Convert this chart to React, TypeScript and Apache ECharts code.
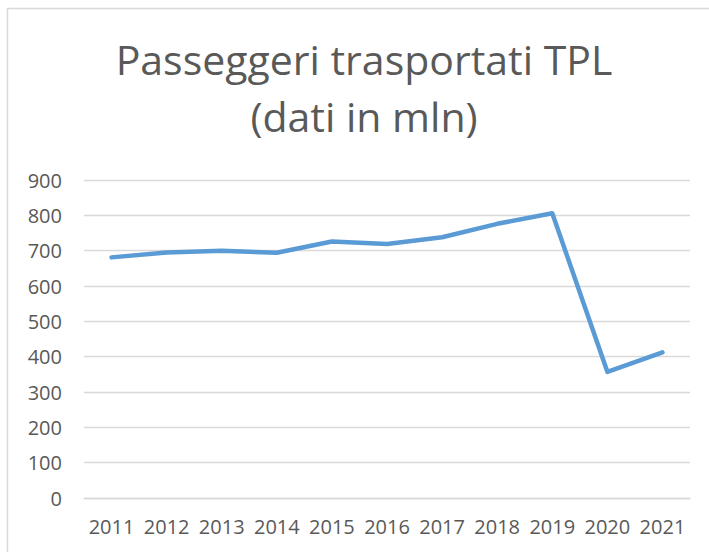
import React, { useEffect, useRef } from "react";
import * as echarts from "echarts";

const years = ["2011", "2012", "2013", "2014", "2015", "2016", "2017", "2018", "2019", "2020", "2021"];
const passengers = [681, 695, 700, 694, 726, 719, 738, 776, 806, 357, 412];
const titleLines = ["Passeggeri trasportati TPL", "(dati in mln)"];

const FONT = "'Open Sans', sans-serif";
const GREY = "#595959";

export default function App() {
  const ref = useRef<HTMLDivElement>(null);
  useEffect(() => {
    document.body.style.margin = "0";
    const chart = echarts.init(ref.current!, null, { renderer: "svg" });
    chart.setOption({
      animation: false,
      backgroundColor: "#ffffff",
      graphic: [
        {
          type: "rect",
          shape: { x: 7.5, y: 8.5, width: 720, height: 570 },
          style: { fill: "none", stroke: "#d9d9d9", lineWidth: 1.5 },
          silent: true,
        },
        {
          type: "text",
          x: 364,
          y: 59,
          style: { text: titleLines[0], font: `41px ${FONT}`, fill: GREY, align: "center", verticalAlign: "middle" },
        },
        {
          type: "text",
          x: 364,
          y: 116,
          style: { text: titleLines[1], font: `41px ${FONT}`, fill: GREY, align: "center", verticalAlign: "middle" },
        },
      ],
      grid: { left: 84, right: 19, top: 180, bottom: 54, containLabel: false },
      xAxis: {
        type: "category",
        data: years,
        boundaryGap: true,
        axisLine: { show: true, lineStyle: { color: "#d9d9d9", width: 1.3 } },
        axisTick: { show: false },
        axisLabel: { interval: 0, color: GREY, fontFamily: FONT, fontSize: 20, margin: 18 },
      },
      yAxis: {
        type: "value",
        min: 0,
        max: 900,
        interval: 100,
        axisLine: { show: false },
        axisTick: { show: false },
        splitLine: { lineStyle: { color: "#d9d9d9", width: 1.3 } },
        axisLabel: { color: GREY, fontFamily: FONT, fontSize: 20, margin: 22 },
      },
      series: [
        {
          type: "line",
          data: passengers,
          showSymbol: false,
          symbol: "none",
          lineStyle: { color: "#5B9BD5", width: 4.5, cap: "round", join: "round" },
        },
      ],
    });
    return () => chart.dispose();
  }, []);
  return <div ref={ref} style={{ width: 709, height: 552 }} />;
}
